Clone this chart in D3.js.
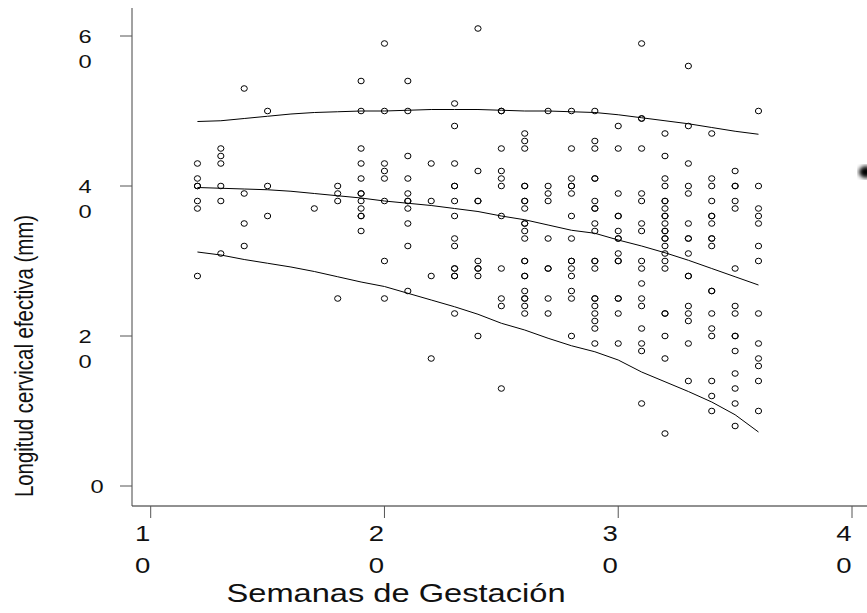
<!DOCTYPE html>
<html>
<head>
<meta charset="utf-8">
<script src="https://cdn.jsdelivr.net/npm/d3@7"></script>
<style>
  body { margin: 0; background: #fff; }
  svg { display: block; font-family: "Liberation Sans", Arial, sans-serif; }
</style>
</head>
<body>
<script>
// semanas de gestacion con medidas
var semanas = [12, 13, 14, 15, 17, 18, 19, 20, 21, 22, 23, 24, 25, 26, 27, 28, 29, 30, 31, 32, 33, 34, 35, 36];
// longitud cervical (mm) por semana
var longitudes = [
  [43, 41, 40, 40, 38, 37, 28],
  [45, 44, 43, 40, 38, 31],
  [53, 39, 35, 32],
  [50, 40, 36],
  [37],
  [40, 39, 38, 25],
  [54, 50, 45, 43, 41, 39, 39, 38, 37, 36, 36, 34],
  [59, 50, 43, 42, 41, 38, 30, 25],
  [54, 50, 44, 41, 39, 38, 38, 37, 35, 32, 26],
  [43, 38, 28, 17],
  [51, 48, 43, 40, 40, 38, 36, 33, 32, 29, 29, 28, 28, 23],
  [61, 42, 38, 38, 30, 29, 29, 28, 20],
  [50, 50, 45, 42, 41, 40, 36, 29, 25, 24, 13],
  [47, 46, 45, 40, 40, 38, 38, 37, 35, 35, 34, 33, 30, 30, 28, 28, 26, 25, 25, 24, 23],
  [50, 40, 39, 38, 33, 29, 29, 25, 23],
  [50, 45, 41, 40, 40, 39, 36, 33, 30, 30, 29, 28, 26, 25, 20],
  [50, 46, 45, 41, 41, 38, 37, 37, 35, 34, 30, 30, 29, 25, 25, 24, 23, 22, 21, 19],
  [48, 45, 39, 36, 36, 34, 33, 33, 31, 30, 30, 25, 25, 23, 19],
  [59, 49, 49, 45, 39, 38, 35, 34, 30, 29, 27, 25, 24, 21, 19, 18, 11],
  [47, 44, 41, 40, 38, 38, 37, 36, 36, 35, 34, 34, 33, 33, 32, 31, 30, 29, 23, 23, 20, 17, 7],
  [56, 48, 43, 40, 39, 35, 33, 33, 31, 28, 28, 24, 23, 22, 19, 14],
  [47, 41, 40, 38, 36, 36, 35, 33, 33, 32, 26, 26, 23, 21, 20, 14, 12, 10],
  [42, 40, 40, 38, 37, 29, 24, 23, 20, 20, 18, 15, 13, 11, 8],
  [50, 40, 37, 36, 35, 32, 30, 23, 19, 17, 16, 14, 10]
];

// percentiles
var semanasCurva = [12, 13, 14, 15, 16, 17, 18, 19, 20, 21, 22, 23, 24, 25, 26, 27, 28, 29, 30, 31, 32, 33, 34, 35, 36];
var p95 = [48.6, 48.7, 49.0, 49.3, 49.6, 49.8, 49.9, 50.0, 50.0, 50.1, 50.2, 50.2, 50.2, 50.1, 50.0, 50.0, 49.9, 49.8, 49.5, 49.1, 48.7, 48.3, 47.8, 47.3, 46.9];
var p50 = [39.8, 39.7, 39.6, 39.5, 39.3, 39.0, 38.7, 38.4, 38.0, 37.7, 37.4, 37.0, 36.6, 36.0, 35.5, 34.8, 34.1, 33.7, 32.8, 32.0, 31.1, 30.1, 29.0, 27.9, 26.8];
var p5  = [31.2, 30.8, 30.2, 29.7, 29.2, 28.6, 27.9, 27.2, 26.6, 25.7, 24.8, 23.9, 22.9, 21.7, 20.8, 19.7, 18.7, 17.9, 16.8, 15.2, 13.9, 12.6, 11.2, 9.5, 7.2];

var xTicks = [10, 20, 30, 40];
var yTicks = [0, 20, 40, 60];

var W = 867, H = 613;
var svg = d3.select("body").append("svg").attr("width", W).attr("height", H);

var x = d3.scaleLinear().domain([10, 40]).range([150.7, 852]);
var y = d3.scaleLinear().domain([0, 60]).range([486, 36]);

// el original esta estirado a lo ancho, los textos tambien
var estira = 1.28;
function texto(px, py, txt, size, rot) {
  var g = svg.append("g").attr("transform", "translate(" + px + "," + py + ") scale(" + estira + ",1)" + (rot ? " rotate(-90)" : ""));
  g.append("text").attr("text-anchor", "middle").style("font-size", size + "px")
    .attr("fill", "#111").text(txt);
}

// ejes
svg.append("line").attr("x1", 132).attr("x2", W).attr("y1", 506).attr("y2", 506)
  .attr("stroke", "#222").attr("stroke-width", 1);
svg.append("line").attr("x1", 132).attr("x2", 132).attr("y1", 8).attr("y2", 506)
  .attr("stroke", "#444").attr("stroke-width", 1);

svg.selectAll(".xt").data(xTicks).enter().append("line")
  .attr("x1", d => x(d)).attr("x2", d => x(d)).attr("y1", 506).attr("y2", 518)
  .attr("stroke", "#555");
svg.selectAll(".yt").data(yTicks).enter().append("line")
  .attr("x1", 120).attr("x2", 132).attr("y1", d => y(d)).attr("y2", d => y(d))
  .attr("stroke", "#555");

// etiquetas partidas en dos lineas como el original
xTicks.forEach(function(d) {
  var s = String(d);
  texto(x(d) - 8, 541, s[0], 21.5);
  texto(x(d) - 8, 573, s[1], 21.5);
});
yTicks.forEach(function(d) {
  var s = String(d);
  if (s.length == 1) {
    texto(97, y(d) + 7, s, 18.5);
  } else {
    texto(85, y(d) + 7, s[0], 18.5);
    texto(85, y(d) + 32, s[1], 18.5);
  }
});

texto(396, 602, "Semanas de Gestación", 25.5);
texto(33, 356, "Longitud cervical efectiva (mm)", 20.4, true);

// curvas
var linea = d3.line().x(d => x(d[0])).y(d => y(d[1]));
[p95, p50, p5].forEach(function(p) {
  svg.append("path").datum(d3.zip(semanasCurva, p)).attr("d", linea)
    .attr("fill", "none").attr("stroke", "#000").attr("stroke-width", 1);
});

// puntos
var puntos = [];
semanas.forEach(function(s, i) {
  longitudes[i].forEach(function(v) { puntos.push([s, v]); });
});
svg.selectAll("ellipse.p").data(puntos).enter().append("ellipse")
  .attr("class", "p")
  .attr("cx", d => x(d[0])).attr("cy", d => y(d[1])).attr("rx", 3.1).attr("ry", 2.8)
  .attr("fill", "none").attr("stroke", "#000").attr("stroke-width", 1);

// mancha del borde derecho
var defs = svg.append("defs");
defs.append("filter").attr("id", "bl").append("feGaussianBlur").attr("stdDeviation", 2);
svg.append("ellipse").attr("cx", 866).attr("cy", 172).attr("rx", 7).attr("ry", 6)
  .attr("fill", "#000").attr("filter", "url(#bl)");
</script>
</body>
</html>
